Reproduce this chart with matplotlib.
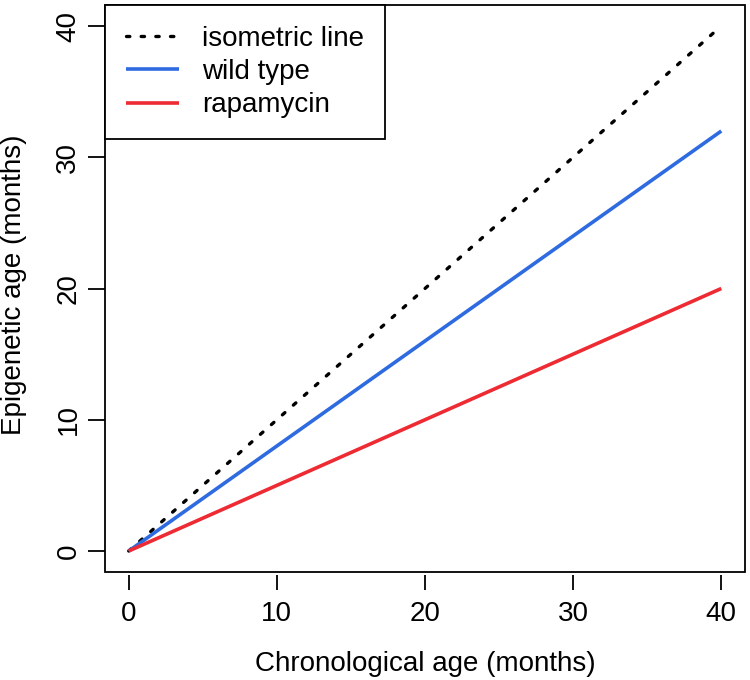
import numpy as np
import matplotlib
matplotlib.use("Agg")
import matplotlib.pyplot as plt
from matplotlib.patches import Rectangle

# Data
chrono_age = [0, 40]
series_names = ["isometric line", "wild type", "rapamycin"]
series_slopes = [1.0, 0.8, 0.5]
series_colors = ["black", "#2F6BE0", "#EE2A33"]
series_styles = [(0, (1.0, 3.4)), "-", "-"]
series_widths = [2.4, 2.6, 2.6]
x_ticks = [0, 10, 20, 30, 40]
y_ticks = [0, 10, 20, 30, 40]

plt.rcParams['font.family'] = ['Liberation Sans', 'DejaVu Sans']

fig = plt.figure(figsize=(7.5, 6.8), dpi=100)
ax = fig.add_axes([105/750, 1-572/680, 640/750, 567/680])

x = np.array(chrono_age, dtype=float)
for name, slope, col, ls, lw in zip(series_names, series_slopes, series_colors,
                                    series_styles, series_widths):
    ax.plot(x, slope * x, color=col, linestyle=ls, lw=lw, label=name,
            dash_capstyle='round', solid_capstyle='butt')

ax.set_xlim(-1.6, 41.6)
ax.set_ylim(-1.6, 41.6)
ax.set_xticks(x_ticks)
ax.set_yticks(y_ticks)

for s in ax.spines.values():
    s.set_visible(False)
ax.spines['bottom'].set_visible(True)
ax.spines['bottom'].set_position(('outward', 2.5))
ax.spines['bottom'].set_color('none')
ax.add_patch(Rectangle((0, 0), 1, 1, transform=ax.transAxes, fill=False,
                       edgecolor='black', lw=1.3, clip_on=False, zorder=5))

ax.tick_params(axis='x', length=10.5, width=1.3, labelsize=20, pad=8)
ax.tick_params(axis='y', length=12, width=1.3, labelsize=20, pad=5)
for lab in ax.get_yticklabels():
    lab.set_rotation(90)
    lab.set_va('center')

ax.set_xlabel("Chronological age (months)", fontsize=20, labelpad=17)
ax.set_ylabel("Epigenetic age (months)", fontsize=20, labelpad=15)
ax.yaxis.set_label_coords(-0.122, 0.506)

leg = ax.legend(loc='upper left', borderaxespad=0, fontsize=20, frameon=True,
                fancybox=False, edgecolor='black', framealpha=1,
                handlelength=1.9, handletextpad=0.85, borderpad=0.75,
                labelspacing=0.26)
leg.get_frame().set_linewidth(1.3)
leg.set_zorder(6)

fig.savefig("out.png", dpi=100)
